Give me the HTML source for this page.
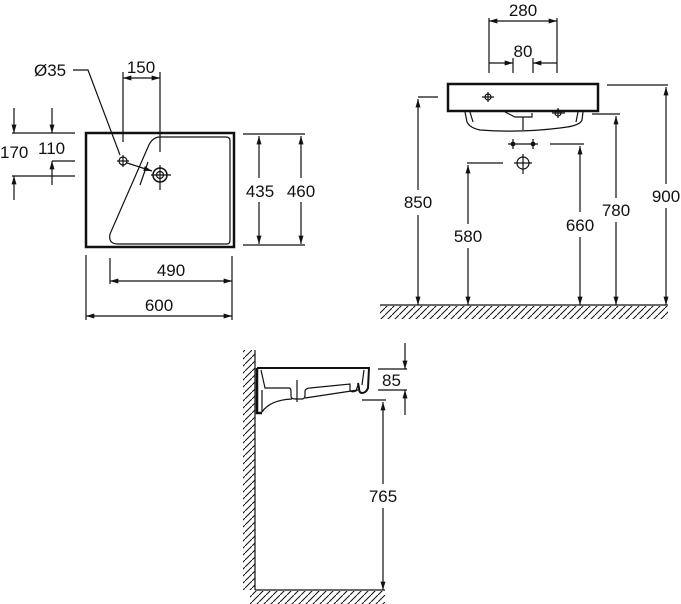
<!DOCTYPE html>
<html><head><style>
html,body{margin:0;padding:0;background:#fff;width:681px;height:604px;overflow:hidden}
svg text{font-family:"Liberation Sans",Arial,sans-serif;font-size:17px;fill:#111}
</style></head><body>
<svg width="681" height="604" viewBox="0 0 681 604" xmlns="http://www.w3.org/2000/svg">
<defs>
<marker id="a" viewBox="0 0 10 6" refX="10" refY="3" markerWidth="9" markerHeight="5" orient="auto-start-reverse" markerUnits="userSpaceOnUse"><path d="M0,0 L10,3 L0,6 Z" fill="#111"/></marker>
<pattern id="h" width="7" height="7" patternUnits="userSpaceOnUse"><path d="M0,7 L7,0" stroke="#111" stroke-width="1"/></pattern>
</defs>
<g stroke="#111" stroke-width="1.2" fill="none">
<rect x="86" y="133" width="148" height="114" stroke-width="2.5"/>
<path d="M160,137 Q152,137 148,147 L110,234 Q108,244 118,244 L227,244 Q230,244 230,240 L230,141 Q230,137 226,137 Z"/>
<line x1="123" y1="72" x2="123" y2="142"/>
<line x1="160" y1="72" x2="160" y2="152"/>
<line x1="123" y1="78" x2="160" y2="78" marker-start="url(#a)" marker-end="url(#a)"/>
<path d="M73,70 L88,70 L120,155"/>
<circle cx="123" cy="161" r="4"/><line x1="117" y1="161" x2="129" y2="161"/><line x1="123" y1="155" x2="123" y2="167"/>
<circle cx="160" cy="175" r="7" stroke-width="1.5"/><circle cx="160" cy="175" r="3.5"/>
<line x1="151" y1="175" x2="171" y2="175"/><line x1="160" y1="165" x2="160" y2="190"/>
<line x1="127" y1="163" x2="152" y2="171" marker-end="url(#a)"/>
<line x1="148" y1="162" x2="140" y2="185"/>
<line x1="12" y1="133" x2="75" y2="133"/><line x1="52" y1="161" x2="75" y2="161"/><line x1="12" y1="176" x2="75" y2="176"/>
<line x1="14" y1="108" x2="14" y2="133" marker-end="url(#a)"/>
<line x1="14" y1="200" x2="14" y2="176" marker-end="url(#a)"/>
<line x1="52" y1="108" x2="52" y2="133" marker-end="url(#a)"/>
<line x1="52" y1="185" x2="52" y2="161" marker-end="url(#a)"/>
<line x1="243" y1="245" x2="305" y2="245"/><line x1="243" y1="134" x2="305" y2="134"/>
<line x1="259" y1="178" x2="259" y2="136" marker-end="url(#a)"/><line x1="259" y1="202" x2="259" y2="244" marker-end="url(#a)"/>
<line x1="301" y1="178" x2="301" y2="136" marker-end="url(#a)"/><line x1="301" y1="202" x2="301" y2="244" marker-end="url(#a)"/>
<line x1="86" y1="255" x2="86" y2="320"/><line x1="110" y1="258" x2="110" y2="284"/><line x1="232" y1="256" x2="232" y2="320"/>
<line x1="110" y1="281" x2="232" y2="281" marker-start="url(#a)" marker-end="url(#a)"/>
<line x1="86" y1="316" x2="232" y2="316" marker-start="url(#a)" marker-end="url(#a)"/>

<rect x="448" y="84" width="150" height="27" stroke-width="2.5"/>
<path d="M465,112 L467,122 Q470,128 480,130 Q520,133 560,128 Q580,126 582,120 L583,112"/>
<path d="M470,112 L473,122 M578,112 L576,122 M505,112 L515,117 L532,117 L532,113 M523,117 L523,130"/>
<line x1="482" y1="97" x2="494" y2="97"/><line x1="488" y1="92" x2="488" y2="102"/><circle cx="488" cy="97" r="3"/>
<line x1="552" y1="113" x2="565" y2="113"/><line x1="558" y1="108" x2="558" y2="118"/><circle cx="558" cy="113" r="3"/>
<line x1="489" y1="18" x2="489" y2="73"/><line x1="557" y1="18" x2="557" y2="73"/>
<line x1="489" y1="21" x2="557" y2="21" marker-start="url(#a)" marker-end="url(#a)"/>
<line x1="513" y1="58" x2="513" y2="73"/><line x1="533" y1="58" x2="533" y2="73"/>
<line x1="489" y1="63" x2="513" y2="63" marker-end="url(#a)"/><line x1="557" y1="63" x2="533" y2="63" marker-end="url(#a)"/>
<line x1="508" y1="144" x2="538" y2="144"/><circle cx="513" cy="144" r="1.8" fill="#111"/><circle cx="533" cy="144" r="1.8" fill="#111"/>
<line x1="513" y1="139" x2="513" y2="149"/><line x1="533" y1="139" x2="533" y2="149"/>
<circle cx="523" cy="163" r="6"/><line x1="514" y1="163" x2="532" y2="163"/><line x1="523" y1="154" x2="523" y2="174"/>
<line x1="418" y1="97" x2="438" y2="97"/>
<line x1="418" y1="190" x2="418" y2="99" marker-end="url(#a)"/><line x1="418" y1="215" x2="418" y2="305" marker-end="url(#a)"/>
<line x1="467" y1="163" x2="503" y2="163"/>
<line x1="468" y1="224" x2="468" y2="165" marker-end="url(#a)"/><line x1="468" y1="248" x2="468" y2="305" marker-end="url(#a)"/>
<line x1="550" y1="144" x2="584" y2="144"/>
<line x1="580" y1="212" x2="580" y2="146" marker-end="url(#a)"/><line x1="580" y1="237" x2="580" y2="305" marker-end="url(#a)"/>
<line x1="592" y1="114" x2="620" y2="114"/>
<line x1="616" y1="198" x2="616" y2="116" marker-end="url(#a)"/><line x1="616" y1="222" x2="616" y2="305" marker-end="url(#a)"/>
<line x1="607" y1="85" x2="668" y2="85"/>
<line x1="666" y1="184" x2="666" y2="87" marker-end="url(#a)"/><line x1="666" y1="208" x2="666" y2="305" marker-end="url(#a)"/>
<line x1="380" y1="305" x2="668" y2="305"/>
<rect x="380" y="306" width="288" height="13" fill="url(#h)" stroke="none"/>

<line x1="255" y1="350" x2="255" y2="590"/>
<rect x="243" y="350" width="12" height="240" fill="url(#h)" stroke="none"/>
<line x1="255" y1="590" x2="385" y2="590"/>
<rect x="250" y="591" width="135" height="13" fill="url(#h)" stroke="none"/>
<path d="M257,368 L369,368 L368,388 Q366,393 362,393 Q359,393 359,388 L358,383" stroke-width="2"/>
<path d="M257,368 L257,413 L262,413" stroke-width="2.5"/>
<path d="M261,370 L265,388 L289,388 Q291,388 291,392 L291,396 Q291,399 295,399 L302,399 Q305,399 305,395 L305,391 Q306,388 310,388 L350,384 L350,390 Q352,393 356,391 L358,385 M364,370 L362,385"/>
<path d="M262,390 L262,412 M262,412 Q270,400 292,399 M305,398 L358,390"/>
<line x1="297" y1="380" x2="297" y2="402"/>
<line x1="378" y1="369" x2="407" y2="369"/><line x1="378" y1="390" x2="407" y2="390"/>
<line x1="405" y1="343" x2="405" y2="369" marker-end="url(#a)"/><line x1="405" y1="415" x2="405" y2="390" marker-end="url(#a)"/>
<line x1="362" y1="400" x2="386" y2="400"/>
<line x1="383" y1="484" x2="383" y2="402" marker-end="url(#a)"/><line x1="383" y1="508" x2="383" y2="590" marker-end="url(#a)"/>
</g>
<text x="34" y="76">Ø35</text>
<text x="141" y="73" text-anchor="middle">150</text>
<text x="0" y="158">170</text>
<text x="38" y="154">110</text>
<text x="260" y="197" text-anchor="middle">435</text>
<text x="301" y="197" text-anchor="middle">460</text>
<text x="171" y="276" text-anchor="middle">490</text>
<text x="159" y="311" text-anchor="middle">600</text>
<text x="523" y="16" text-anchor="middle">280</text>
<text x="523" y="57" text-anchor="middle">80</text>
<text x="418" y="208" text-anchor="middle">850</text>
<text x="468" y="242" text-anchor="middle">580</text>
<text x="580" y="231" text-anchor="middle">660</text>
<text x="616" y="216" text-anchor="middle">780</text>
<text x="666" y="202" text-anchor="middle">900</text>
<text x="382" y="386">85</text>
<text x="383" y="502" text-anchor="middle">765</text>
</svg>
</body></html>
